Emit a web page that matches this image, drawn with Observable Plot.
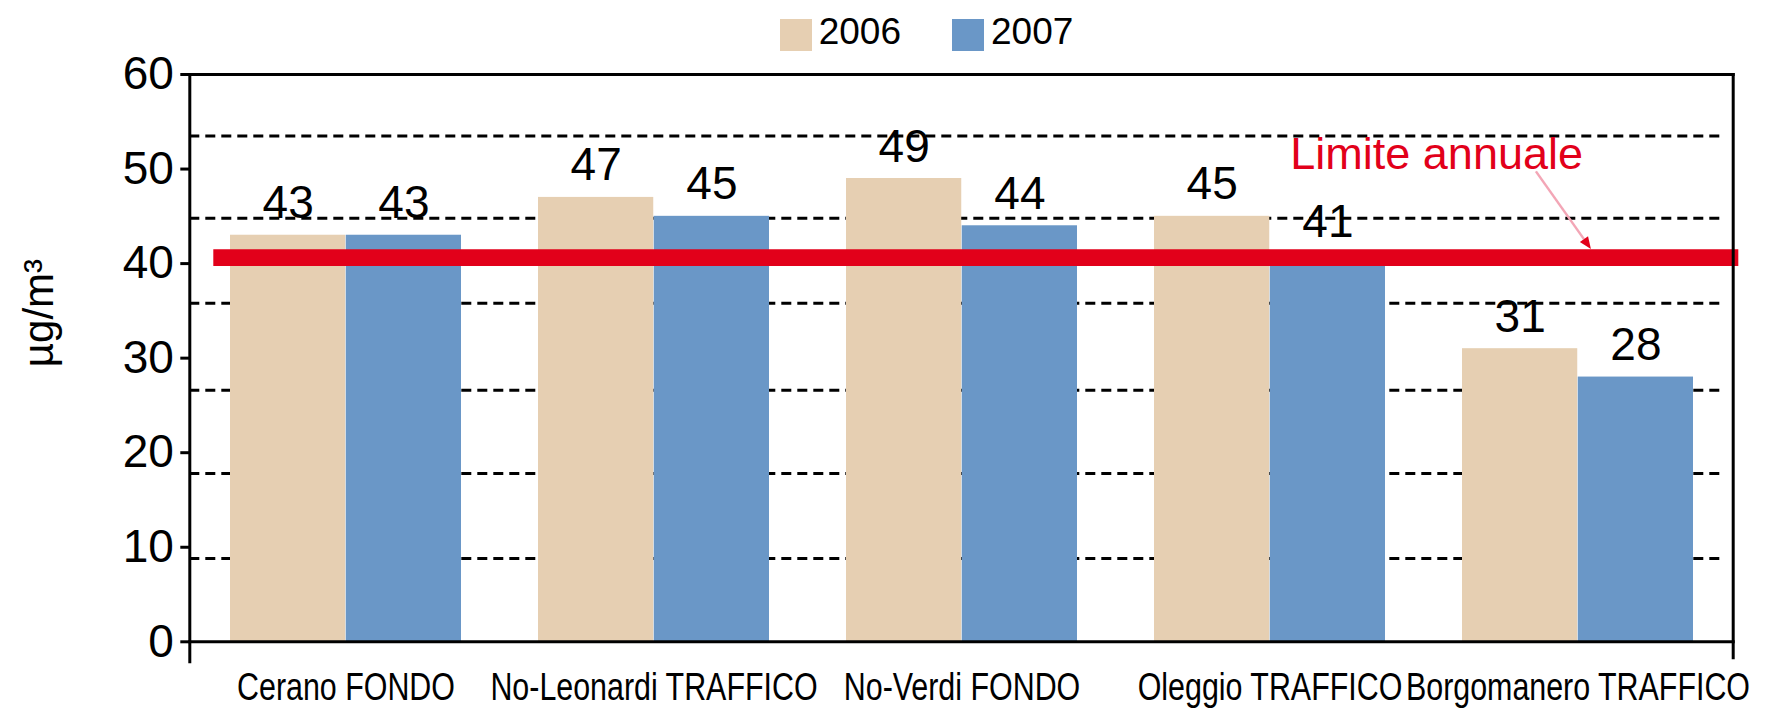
<!DOCTYPE html>
<html>
<head>
<meta charset="utf-8">
<script src="https://cdn.jsdelivr.net/npm/d3@7"></script>
<script src="https://cdn.jsdelivr.net/npm/@observablehq/plot@0.6"></script>
<style>
  html, body { margin: 0; padding: 0; background: #fff; }
  #wrap { width: 1771px; height: 708px; position: relative; overflow: hidden; font-family: "Liberation Sans", Arial, sans-serif; }
  #legend { height: 60px; display: flex; justify-content: center; align-items: flex-start; padding-left: 82px; box-sizing: border-box; }
  .item { display: flex; align-items: flex-start; }
  .sw { width: 32px; height: 32px; margin-top: 19px; margin-right: 7px; }
  .lt { font-size: 37px; line-height: 37px; margin-top: 13px; color: #000; }
  .gap { width: 51px; }
</style>
</head>
<body>
<div id="wrap">
  <div id="legend"></div>
  <div id="chart"></div>
</div>
<script>
// ---- data ----
const stations = ["Cerano FONDO", "No-Leonardi TRAFFICO", "No-Verdi FONDO", "Oleggio TRAFFICO", "Borgomanero TRAFFICO"];
const years = ["2006", "2007"];
const values2006 = [43, 47, 49, 45, 31];
const values2007 = [43, 45, 44, 41, 28];
const yTicks = [0, 10, 20, 30, 40, 50, 60];
const gridLines = [8.8, 17.8, 26.6, 35.8, 44.8, 53.5];
const limitValue = 40;
const limitLabel = "Limite annuale";
const limitLabelPos = {station: "Borgomanero TRAFFICO", value: 50};
const arrowFrom = {station: "Borgomanero TRAFFICO", frac: 0.32, value: 49.7};
const arrowTo = {station: "Borgomanero TRAFFICO", frac: 0.558, value: 41.5};
const yLabel = "µg/m³";
const colors = {"2006": "#e6cfb2", "2007": "#6a97c7"};
const red = "#e2001a";

// ---- layout ----
const W = 1771, H = 648;
const mL = 189.3, mR = 38.3, mT = 14, mB = 66.7;
const pIn = 0.25, pOut = 0.125;
const step = (W - mL - mR) / (stations.length - pIn + 2 * pOut);
const bw = step * (1 - pIn);
const half = bw / 2;
const narrow = 0.8; // horizontal condensing of the category labels

const rows2006 = stations.map((s, i) => ({station: s, year: years[0], value: values2006[i]}));
const rows2007 = stations.map((s, i) => ({station: s, year: years[1], value: values2007[i]}));

// legend
const leg = document.getElementById("legend");
years.forEach((y, i) => {
  if (i > 0) { const g = document.createElement("div"); g.className = "gap"; leg.appendChild(g); }
  const it = document.createElement("div"); it.className = "item";
  const sw = document.createElement("div"); sw.className = "sw"; sw.style.background = colors[y];
  const t = document.createElement("div"); t.className = "lt"; t.textContent = y;
  it.appendChild(sw); it.appendChild(t); leg.appendChild(it);
});

const chart = Plot.plot({
  width: W, height: H,
  marginLeft: mL, marginRight: mR, marginTop: mT, marginBottom: mB,
  x: {domain: stations, paddingInner: pIn, paddingOuter: pOut, label: null},
  y: {domain: [0, 60], label: null},
  style: {fontFamily: "'Liberation Sans', Arial, sans-serif", color: "black", background: "white", overflow: "visible"},
  marks: [
    Plot.ruleY(gridLines, {stroke: "black", strokeWidth: 3, strokeDasharray: "10,6", insetRight: 9}),
    Plot.barY(rows2006, {x: "station", y: "value", fill: colors["2006"], insetRight: half}),
    Plot.barY(rows2007, {x: "station", y: "value", fill: colors["2007"], insetLeft: half}),
    Plot.text(rows2006, {x: "station", y: "value", text: d => String(d.value), dx: -bw / 4, dy: -17, lineAnchor: "bottom", fontSize: 46, fill: "black"}),
    Plot.text(rows2007, {x: "station", y: "value", text: d => String(d.value), dx: bw / 4, dy: -17, lineAnchor: "bottom", fontSize: 46, fill: "black"}),
    Plot.ruleY([limitValue], {stroke: red, strokeWidth: 16.7, dy: -6, insetLeft: 24, insetRight: -5.6}),
    Plot.text([limitLabelPos], {x: "station", y: "value", text: () => limitLabel, textAnchor: "end", lineAnchor: "bottom", dx: 5, fontSize: 45, fill: red}),
    Plot.frame({anchor: "top", stroke: "black", strokeWidth: 3}),
    Plot.frame({anchor: "bottom", stroke: "black", strokeWidth: 3}),
    Plot.frame({anchor: "left", stroke: "black", strokeWidth: 3, insetBottom: -20}),
    Plot.frame({anchor: "right", stroke: "black", strokeWidth: 3, insetBottom: -16}),
    Plot.axisY({ticks: yTicks, tickSize: 9, tickPadding: 7, fontSize: 46, strokeWidth: 3, label: null}),
    Plot.axisX({tickSize: 0, tickPadding: 31, fontSize: 38, label: null}),
    Plot.text([yLabel], {frameAnchor: "left", rotate: -90, dx: -137, dy: 9, fontSize: 42, lineAnchor: "bottom", fill: "black", text: d => d})
  ]
});
document.getElementById("chart").appendChild(chart);

const svg = d3.select(chart);

// condense the category labels horizontally, as in the original
svg.selectAll('g[aria-label="x-axis tick label"] text').each(function () {
  const t = this.getAttribute("transform") || "";
  this.setAttribute("transform", (t + ` scale(${narrow},1)`).trim());
});

// annotation arrow, positioned through the chart's own scales
const xs = chart.scale("x"), ys = chart.scale("y");
const x1 = xs.apply(arrowFrom.station) + xs.bandwidth * arrowFrom.frac, y1 = ys.apply(arrowFrom.value);
const x2 = xs.apply(arrowTo.station) + xs.bandwidth * arrowTo.frac, y2 = ys.apply(arrowTo.value);
const ang = Math.atan2(y2 - y1, x2 - x1);
const hl = 12, hw = 5;
const bx = x2 - hl * Math.cos(ang), by = y2 - hl * Math.sin(ang);
svg.append("line").attr("x1", x1).attr("y1", y1).attr("x2", bx).attr("y2", by)
  .attr("stroke", "#f3a6b6").attr("stroke-width", 2.5);
svg.append("path")
  .attr("d", `M${x2},${y2}L${bx + hw * Math.sin(ang)},${by - hw * Math.cos(ang)}L${bx - hw * Math.sin(ang)},${by + hw * Math.cos(ang)}Z`)
  .attr("fill", red);
</script>
</body>
</html>
